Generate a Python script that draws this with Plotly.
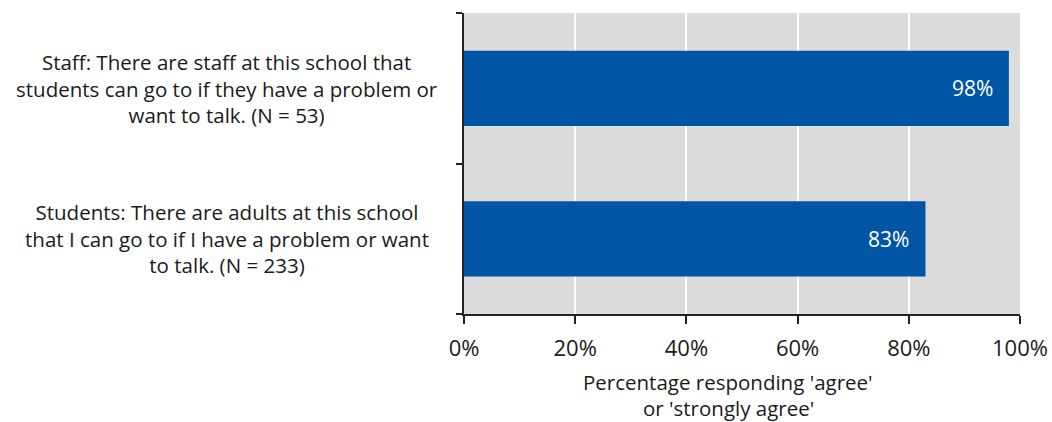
import plotly.graph_objects as go

# Survey items (bottom to top on the chart) and share agreeing
categories = ["Students", "Staff"]
labels = [
    "Students: There are adults at this school<br>that I can go to if I have a problem or want<br>to talk. (N = 233)",
    "Staff: There are staff at this school that<br>students can go to if they have a problem or<br>want to talk. (N = 53)",
]
values = [0.83, 0.98]
x_ticks = [0, 0.2, 0.4, 0.6, 0.8, 1.0]
x_tick_text = ["0%", "20%", "40%", "60%", "80%", "100%"]
x_title_lines = ["Percentage responding 'agree'", "or 'strongly agree'"]

FONT = "Open Sans"
BAR = "#0055a5"
INK = "#1a1a1a"

fig = go.Figure(
    go.Bar(
        x=values,
        y=categories,
        orientation="h",
        marker=dict(color=BAR, line=dict(width=0)),
        width=0.5,
        hoverinfo="skip",
    )
)

# Value labels inside the bar ends
for cat, v in zip(categories, values):
    fig.add_annotation(
        x=v, y=cat, xref="x", yref="y",
        text=f"{round(v * 100)}%",
        showarrow=False, xanchor="right", xshift=-14,
        font=dict(family=FONT, size=21, color="white"),
    )

# Centered multi-line category labels
for cat, lab in zip(categories, labels):
    fig.add_annotation(
        x=-0.426, y=cat, xref="paper", yref="y",
        text=lab, showarrow=False, xanchor="center", yanchor="middle",
        align="center",
        font=dict(family=FONT, size=20.5, color=INK),
    )

# Axis title, one annotation per line for tighter leading
for i, line in enumerate(x_title_lines):
    fig.add_annotation(
        x=0.475, y=0, xref="paper", yref="paper", yshift=-68 - 26 * i,
        text=line, showarrow=False, xanchor="center", yanchor="middle",
        borderpad=0,
        font=dict(family=FONT, size=20.5, color=INK),
    )

fig.update_layout(
    width=1052, height=422,
    margin=dict(l=464, r=32, t=13, b=108, autoexpand=False),
    plot_bgcolor="#dcdcdc",
    paper_bgcolor="white",
    showlegend=False,
    bargap=0.5,
    font=dict(family=FONT, size=20, color=INK),
)

fig.update_xaxes(
    range=[0, 1.0],
    tickvals=x_ticks, ticktext=x_tick_text,
    tickfont=dict(family=FONT, size=22, color=INK),
    ticklabelstandoff=6,
    automargin=False,
    showgrid=True, gridcolor="white", gridwidth=1.5,
    showline=True, linecolor="#222", linewidth=1.5,
    ticks="outside", ticklen=8, tickcolor="#222", tickwidth=1.5,
    zeroline=False, fixedrange=True,
)
fig.update_yaxes(
    categoryorder="array", categoryarray=categories,
    showticklabels=False,
    automargin=False,
    showline=True, linecolor="#222", linewidth=1.5,
    ticks="outside", ticklen=6, tickcolor="#222", tickwidth=1.5,
    tickson="boundaries",
    showgrid=False, fixedrange=True,
)

fig.write_html("out.html")
